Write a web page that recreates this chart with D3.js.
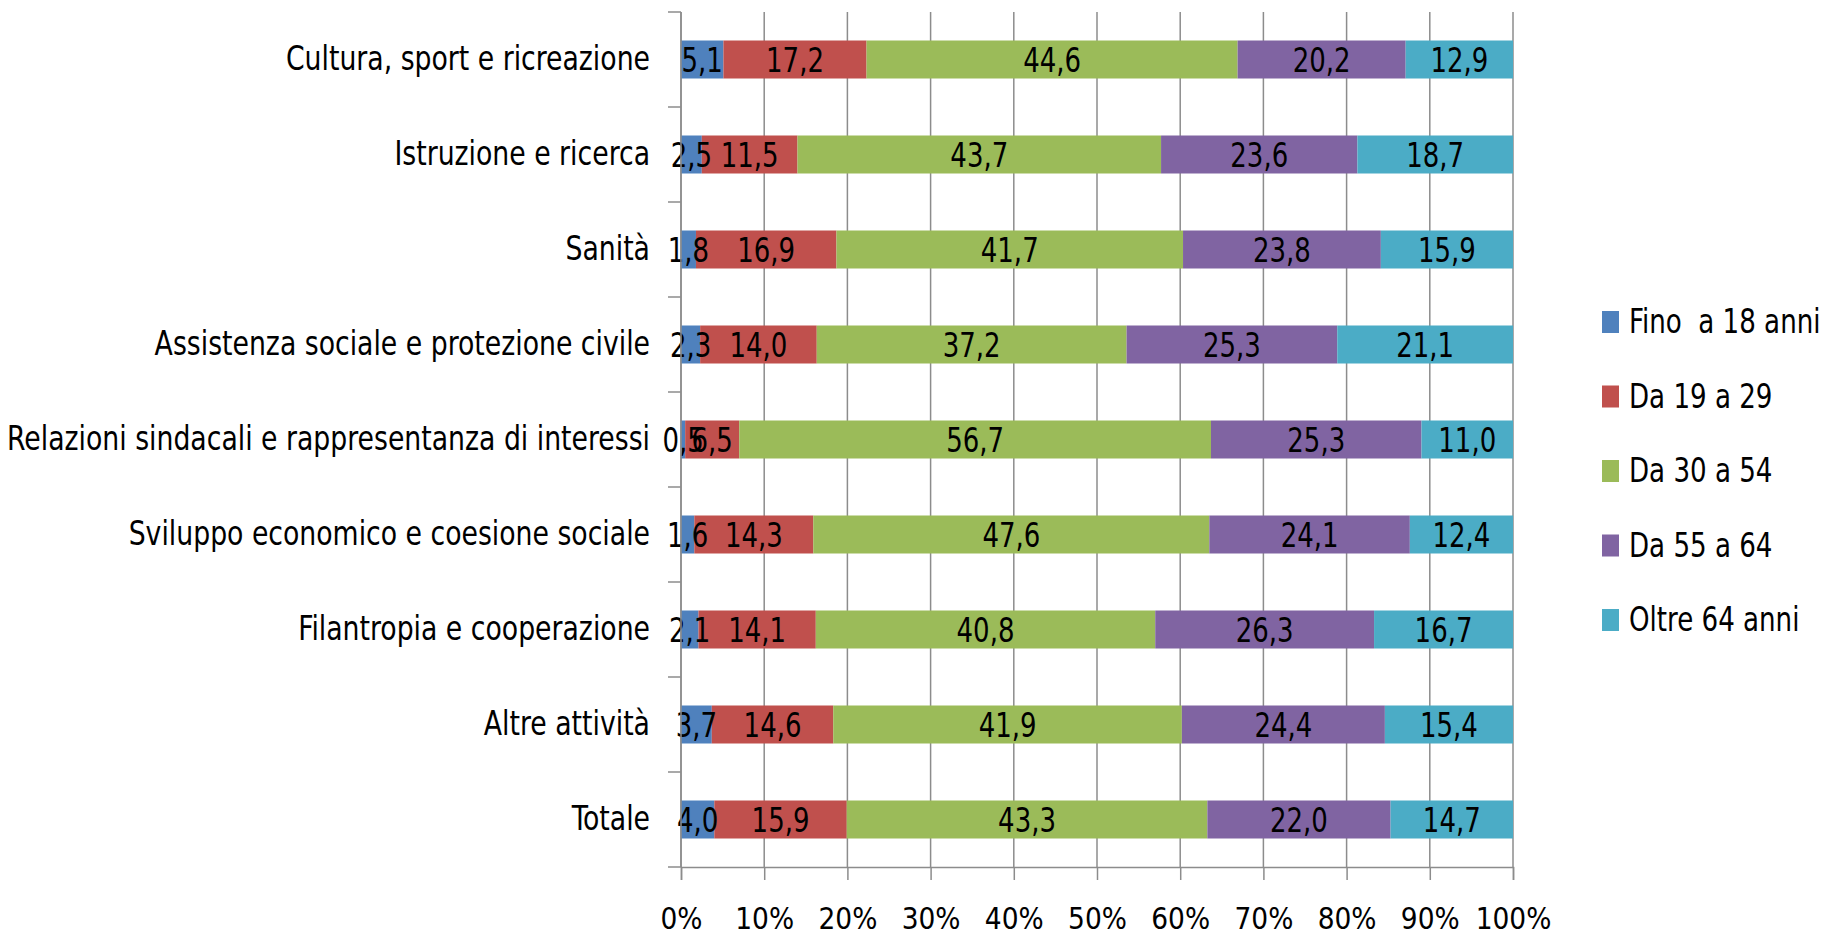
<!DOCTYPE html>
<html>
<head>
<meta charset="utf-8">
<script src="https://cdn.jsdelivr.net/npm/d3@7"></script>
<style>
  body { margin: 0; background: #fff; }
  text { font-family: "DejaVu Sans Condensed", "Liberation Sans Narrow", sans-serif; fill: #000; }
</style>
</head>
<body>
<svg></svg>
<script>

// categories top to bottom
var categories = [
  "Cultura, sport e ricreazione",
  "Istruzione e ricerca",
  "Sanità",
  "Assistenza sociale e protezione civile",
  "Relazioni sindacali e rappresentanza di interessi",
  "Sviluppo economico e coesione sociale",
  "Filantropia e cooperazione",
  "Altre attività",
  "Totale"
];

var seriesNames = ["Fino  a 18 anni", "Da 19 a 29", "Da 30 a 54", "Da 55 a 64", "Oltre 64 anni"];
var seriesColors = ["#4F81BD", "#C0504D", "#9BBB59", "#8064A2", "#4BACC6"];

// values per series, same order as categories
var fino18  = [5.1, 2.5, 1.8, 2.3, 0.5, 1.6, 2.1, 3.7, 4.0];
var da19_29 = [17.2, 11.5, 16.9, 14.0, 6.5, 14.3, 14.1, 14.6, 15.9];
var da30_54 = [44.6, 43.7, 41.7, 37.2, 56.7, 47.6, 40.8, 41.9, 43.3];
var da55_64 = [20.2, 23.6, 23.8, 25.3, 25.3, 24.1, 26.3, 24.4, 22.0];
var oltre64 = [12.9, 18.7, 15.9, 21.1, 11.0, 12.4, 16.7, 15.4, 14.7];

var xTicks = [0, 0.1, 0.2, 0.3, 0.4, 0.5, 0.6, 0.7, 0.8, 0.9, 1];

var width = 1827;
var height = 936;
var plotLeft = 681, plotRight = 1513, plotTop = 12, plotBottom = 867;

var svg = d3.select("svg")
            .attr("width", width)
            .attr("height", height);

var rows = categories.map(function(c, i)
{
  return { cat: c, fino: fino18[i], d19: da19_29[i], d30: da30_54[i], d55: da55_64[i], oltre: oltre64[i] };
});
var keys = ["fino", "d19", "d30", "d55", "oltre"];

// shares of 100 (percent axis)
var stack = d3.stack().keys(keys).offset(d3.stackOffsetExpand);
var stacked = stack(rows);

var x = d3.scaleLinear().domain([0, 1]).range([plotLeft, plotRight]);
var y = d3.scaleBand().domain(categories).range([plotTop, plotBottom])
          .paddingInner(0.6).paddingOuter(0.3);

var gridColor = "#8c8c8c";

// narrow text: tall font squeezed horizontally
var squeeze = function(sel, px, py, sx)
{
  sel.attr("transform", function(d, i)
  {
    return "translate(" + px(d, i) + "," + py(d, i) + ") scale(" + sx + ",1)";
  });
};

// vertical gridlines
svg.append("g").selectAll("line")
  .data(xTicks)
  .enter()
  .append("line")
  .attr("x1", function(d) { return x(d); })
  .attr("x2", function(d) { return x(d); })
  .attr("y1", plotTop)
  .attr("y2", plotBottom)
  .attr("stroke", gridColor)
  .attr("stroke-width", 1.5);

// bars
var layers = svg.append("g").selectAll("g")
  .data(stacked)
  .enter()
  .append("g")
  .attr("fill", function(d, i) { return seriesColors[i]; });

layers.selectAll("rect")
  .data(function(d) { return d; })
  .enter()
  .append("rect")
  .attr("x", function(d) { return x(d[0]); })
  .attr("y", function(d) { return y(d.data.cat); })
  .attr("width", function(d) { return x(d[1]) - x(d[0]); })
  .attr("height", y.bandwidth());

// data labels
var comma = d3.formatLocale({ decimal: ",", thousands: ".", grouping: [3], currency: ["", "€"] }).format(".1f");

var labelLayers = svg.append("g").selectAll("g")
  .data(stacked)
  .enter()
  .append("g");

labelLayers.selectAll("text")
  .data(function(d) { return d.map(function(p) { return { p: p, key: d.key }; }); })
  .enter()
  .append("text")
  .attr("dy", "0.36em")
  .attr("text-anchor", "middle")
  .style("font-size", "34px")
  .text(function(d) { return comma(d.p.data[d.key]); })
  .call(squeeze,
        function(d) { return (x(d.p[0]) + x(d.p[1])) / 2; },
        function(d) { return y(d.p.data.cat) + y.bandwidth() / 2; },
        0.85);

// left axis line and category ticks
svg.append("line")
  .attr("x1", plotLeft).attr("x2", plotLeft)
  .attr("y1", plotTop).attr("y2", plotBottom)
  .attr("stroke", gridColor).attr("stroke-width", 1.5);

svg.append("g").selectAll("line")
  .data(d3.range(categories.length + 1))
  .enter()
  .append("line")
  .attr("x1", plotLeft - 13)
  .attr("x2", plotLeft)
  .attr("y1", function(i) { return plotTop + i * y.step(); })
  .attr("y2", function(i) { return plotTop + i * y.step(); })
  .attr("stroke", gridColor).attr("stroke-width", 1.5);

// category labels
svg.append("g").selectAll("text")
  .data(categories)
  .enter()
  .append("text")
  .attr("dy", "0.33em")
  .attr("text-anchor", "end")
  .style("font-size", "33px")
  .text(function(d) { return d; })
  .call(squeeze,
        function() { return plotLeft - 31; },
        function(d) { return y(d) + y.bandwidth() / 2; },
        0.9);

// bottom axis
var xAxis = d3.axisBottom(x)
  .tickValues(xTicks)
  .tickFormat(d3.format(".0%"))
  .tickSize(13)
  .tickPadding(27);

var gx = svg.append("g")
  .attr("transform", "translate(0," + plotBottom + ")")
  .call(xAxis);
gx.select(".domain").attr("stroke", gridColor).attr("stroke-width", 1.5);
gx.selectAll(".tick line").attr("stroke", gridColor).attr("stroke-width", 1.5);
gx.selectAll(".tick text")
  .style("font-size", "31px")
  .style("font-family", "\"DejaVu Sans Condensed\", \"Liberation Sans Narrow\", sans-serif")
  .attr("transform", "scale(0.95,1)")
  .attr("fill", "#000");

// legend
var legend = svg.append("g").selectAll("g")
  .data(seriesNames)
  .enter()
  .append("g")
  .attr("transform", function(d, i) { return "translate(1602," + (322 + i * 74.5) + ")"; });

legend.append("rect")
  .attr("x", 0)
  .attr("y", -11)
  .attr("width", 17)
  .attr("height", 22)
  .attr("fill", function(d, i) { return seriesColors[i]; });

legend.append("text")
  .attr("dy", "0.34em")
  .style("font-size", "33px")
  .style("white-space", "pre")
  .text(function(d) { return d; })
  .call(squeeze, function() { return 27; }, function() { return 0; }, 0.88);

</script>
</body>
</html>
